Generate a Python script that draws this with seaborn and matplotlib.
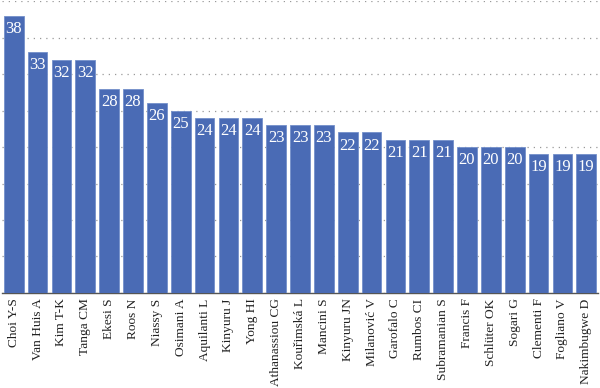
import matplotlib
matplotlib.use("Agg")
import matplotlib.pyplot as plt
import seaborn as sns
import pandas as pd

# data
authors = ["Choi Y-S", "Van Huis A", "Kim T-K", "Tanga CM", "Ekesi S", "Roos N",
           "Niassy S", "Osimani A", "Aquilanti L", "Kinyuru J", "Yong HI",
           "Athanassiou CG", "Kouřimská L", "Mancini S", "Kinyuru JN",
           "Milanović V", "Garofalo C", "Rumbos CI", "Subramanian S",
           "Francis F", "Schlüter OK", "Sogari G", "Clementi F", "Fogliano V",
           "Nakimbugwe D"]
counts = [38, 33, 32, 32, 28, 28, 26, 25, 24, 24, 24, 23, 23, 23, 22, 22,
          21, 21, 21, 20, 20, 20, 19, 19, 19]

df = pd.DataFrame({"author": authors, "n": counts})

sns.set_style("white")
plt.rcParams["font.family"] = ["Liberation Serif", "DejaVu Serif"]

fig = plt.figure(figsize=(6, 3.88), dpi=100)
ax = fig.add_axes([0.003, 0.245, 0.994, 0.752])

sns.barplot(data=df, x="author", y="n", color="#4a6bb5", saturation=1,
            width=0.83, edgecolor="#7390ca", linewidth=0.6, ax=ax, zorder=3)

# value labels inside the bars
for p, v in zip(ax.patches, counts):
    ax.text(p.get_x() + p.get_width() / 2, p.get_height() - 0.7, str(v),
            ha="center", va="top", color="white", fontsize=12, zorder=4)

ax.set_ylim(0, 40)
ax.set_xlim(-0.5, len(authors) - 0.5)
ax.set_yticks(range(0, 41, 5))
ax.set_yticklabels([])
ax.tick_params(axis="y", length=0)
ax.tick_params(axis="x", length=0, pad=4)
ax.yaxis.grid(True, linestyle=(0, (1, 4)), color="#999999", linewidth=0.9, zorder=0)
ax.set_axisbelow(True)
plt.setp(ax.get_xticklabels(), rotation=90, fontsize=9.6, color="#222222")
ax.set_xlabel("")
ax.set_ylabel("")
for s in ["top", "right", "left"]:
    ax.spines[s].set_visible(False)
ax.spines["bottom"].set_color("#555555")
ax.spines["bottom"].set_linewidth(1.0)

fig.savefig("out.png", dpi=100)
